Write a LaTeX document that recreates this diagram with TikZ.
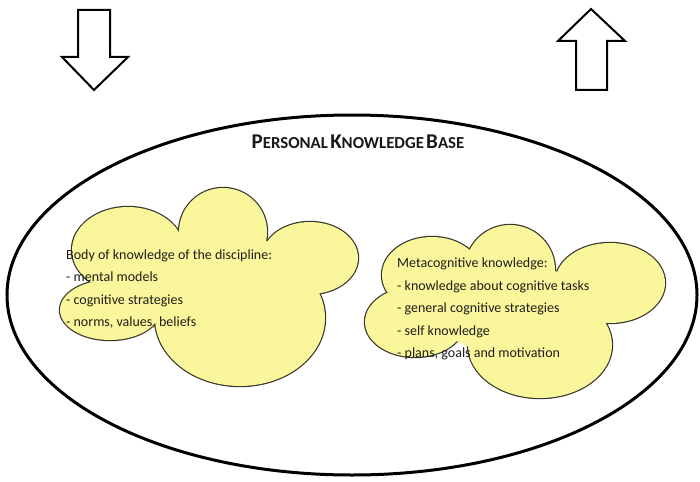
\documentclass[tikz,border=0pt]{standalone}
\usepackage{fontspec}
\setmainfont{Carlito}
\definecolor{cloudfill}{RGB}{250,246,155}
\definecolor{cloudline}{RGB}{55,55,45}
\definecolor{txtcol}{RGB}{30,30,25}
\newcommand\mysc[2]{{\fontsize{21}{22}\selectfont #1}{\fontsize{16.8}{17}\selectfont #2}}
\begin{document}
\begin{tikzpicture}[x=1pt,y=-1pt,
  lobeline/.style={draw=cloudline, line width=2.4pt},
  lobefill/.style={fill=cloudfill},
  blockarrow/.style={draw=black, line width=2pt, fill=white, line join=miter},
  txt/.style={anchor=base west, inner sep=0pt, font=\fontsize{14}{16}\selectfont, text=txtcol}]
\useasboundingbox (0,0) rectangle (700,481);
\fill[white] (0,0) rectangle (700,481);

% block arrows
\draw[blockarrow] (78,10) -- (110,10) -- (110,57) -- (128,57) -- (94,90) -- (62,57) -- (78,57) -- cycle;
\draw[blockarrow] (591,9) -- (625,41) -- (607,41) -- (607,90) -- (576,90) -- (576,41) -- (558,41) -- cycle;

% outer ellipse
\draw[line width=3pt] (352,295) ellipse [x radius=345pt, y radius=180pt];
\node[inner sep=0pt, font=\bfseries, text=black!90] (title) at (358,142)
  {\mysc{P}{ERSONAL} \mysc{K}{NOWLEDGE} \mysc{B}{ASE}};

% left cloud
\foreach \cx/\cy/\rx/\ry in {223/232/44/44, 128/250/56/43, 310/258/48/36, 240/318/85/68, 110/310/50/30}
  \draw[lobeline] (\cx,\cy) ellipse [x radius=\rx pt, y radius=\ry pt];
\foreach \cx/\cy/\rx/\ry in {223/232/44/44, 128/250/56/43, 310/258/48/36, 240/318/85/68, 110/310/50/30, 210/280/90/50}
  \fill[cloudfill] (\cx,\cy) ellipse [x radius=\rx pt, y radius=\ry pt];

% right cloud
\foreach \cx/\cy/\rx/\ry in {510/270/45/45, 432/275/50/38, 610/283/55/40, 415/322/50/35, 540/345/72/53}
  \draw[lobeline] (\cx,\cy) ellipse [x radius=\rx pt, y radius=\ry pt];
\foreach \cx/\cy/\rx/\ry in {510/270/45/45, 432/275/50/38, 610/283/55/40, 415/322/50/35, 540/345/72/53, 515/310/80/45}
  \fill[cloudfill] (\cx,\cy) ellipse [x radius=\rx pt, y radius=\ry pt];

% left text
\node[txt] (l1) at (66,259) {Body of knowledge of the discipline:};
\node[txt] (l2) at (66,281) {- mental models};
\node[txt] (l3) at (66,304) {- cognitive strategies};
\node[txt] (l4) at (66,326) {- norms, values, beliefs};

% right text
\node[txt] (r1) at (397,267) {Metacognitive knowledge:};
\node[txt] (r2) at (397,290) {- knowledge about cognitive tasks};
\node[txt] (r3) at (397,312) {- general cognitive strategies};
\node[txt] (r4) at (397,335) {- self knowledge};
\node[txt] (r5) at (397,357) {- plans, goals and motivation};
\end{tikzpicture}
\end{document}
